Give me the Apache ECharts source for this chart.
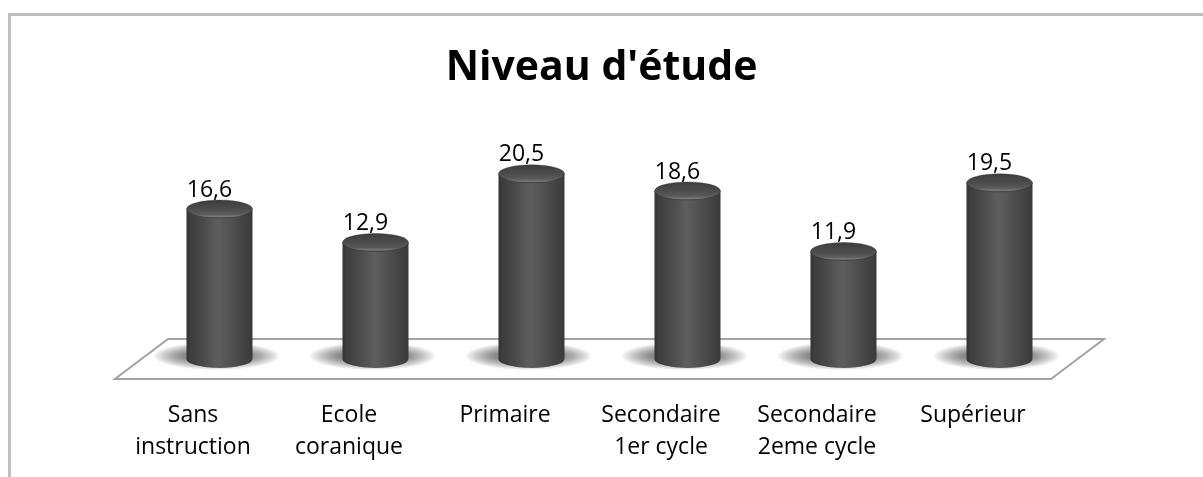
<!DOCTYPE html>
<html>
<head>
<meta charset="utf-8">
<script src="https://cdn.jsdelivr.net/npm/echarts@6/dist/echarts.min.js"></script>
<style>
  html, body { margin: 0; padding: 0; background: #fff; }
  #chart { width: 1203px; height: 477px; }
</style>
</head>
<body>
<div id="chart"></div>
<script>
// Survey shares by education level (%)
const categories = ['Sans\ninstruction', 'Ecole\ncoranique', 'Primaire', 'Secondaire\n1er cycle', 'Secondaire\n2eme cycle', 'Supérieur'];
const values = [16.6, 12.9, 20.5, 18.6, 11.9, 19.5];
const titleText = "Niveau d'étude";

const FONT = '"Open Sans", "DejaVu Sans", sans-serif';
const DEPTH_X = 26.5;   // half of the floor's horizontal skew
const DEPTH_Y = 20;     // half of the floor's vertical depth
const RX = 33;          // cylinder radius
const RY = 9;           // ellipse half-height of cylinder caps

function fmt(v) { return String(v).replace('.', ','); }

function ellipsePath(cx, cy, rx, ry) {
  return 'M' + (cx - rx) + ',' + cy +
    ' A' + rx + ',' + ry + ' 0 1 0 ' + (cx + rx) + ',' + cy +
    ' A' + rx + ',' + ry + ' 0 1 0 ' + (cx - rx) + ',' + cy + ' Z';
}

// Skewed floor plane under the cylinders
function renderFloor(params, api) {
  const cs = params.coordSys;
  const y0 = api.coord([0, 0])[1];
  const x1 = cs.x, x2 = cs.x + cs.width;
  return {
    type: 'polygon',
    shape: {
      points: [
        [x1 + DEPTH_X, y0 - DEPTH_Y],
        [x2 + DEPTH_X, y0 - DEPTH_Y],
        [x2 - DEPTH_X, y0 + DEPTH_Y],
        [x1 - DEPTH_X, y0 + DEPTH_Y]
      ]
    },
    style: { fill: '#ffffff', stroke: '#a3a3a3', lineWidth: 2 },
    silent: true
  };
}

const bodyGradient = () => new echarts.graphic.LinearGradient(0, 0, 1, 0, [
  { offset: 0, color: '#323232' },
  { offset: 0.06, color: '#3d3d3d' },
  { offset: 0.25, color: '#4a4a4a' },
  { offset: 0.48, color: '#5e5e5e' },
  { offset: 0.6, color: '#565656' },
  { offset: 0.85, color: '#444444' },
  { offset: 1, color: '#3a3a3a' }
]);

const topGradient = () => new echarts.graphic.LinearGradient(0, 0, 0, 1, [
  { offset: 0, color: '#3c3c3c' },
  { offset: 0.5, color: '#4c4c4c' },
  { offset: 0.78, color: '#5a5a5a' },
  { offset: 0.9, color: '#787878' },
  { offset: 1, color: '#4a4a4a' }
]);

// Soft floor shadow: a stack of faint ellipses shrinking toward the base
function shadowLayers(cx, yb) {
  const layers = [];
  const steps = 18;
  for (let k = 0; k < steps; k++) {
    const t = 1 - k / steps;
    layers.push({
      type: 'path',
      shape: { pathData: ellipsePath(cx - 3, yb - 3, RX + 30 * t, 5 + 9 * t) },
      style: { fill: 'rgba(0,0,0,0.032)' },
      silent: true
    });
  }
  return layers;
}

// One shaded cylinder per category, with its value on top
function renderCylinder(params, api) {
  const idx = api.value(0);
  const v = api.value(1);
  const base = api.coord([idx, 0]);
  const top = api.coord([idx, v]);
  const cx = base[0], yb = base[1], yt = top[1];
  return {
    type: 'group',
    children: shadowLayers(cx, yb).concat([
      {
        type: 'path',
        shape: {
          pathData: 'M' + (cx - RX) + ',' + yt + ' L' + (cx - RX) + ',' + yb +
            ' A' + RX + ',' + RY + ' 0 0 0 ' + (cx + RX) + ',' + yb +
            ' L' + (cx + RX) + ',' + yt + ' Z'
        },
        style: { fill: bodyGradient() }
      },
      {
        type: 'path',
        shape: { pathData: ellipsePath(cx, yt, RX, RY) },
        style: { fill: topGradient(), stroke: 'rgba(40,40,40,0.6)', lineWidth: 0.6 }
      },
      {
        type: 'text',
        x: cx - 10,
        y: yt - RY + 2,
        style: {
          text: fmt(v),
          font: '23px ' + FONT,
          lineHeight: 24,
          fill: '#000000',
          align: 'center',
          verticalAlign: 'bottom'
        }
      }
    ])
  };
}

const chart = echarts.init(document.getElementById('chart'), null, { renderer: 'canvas' });

chart.setOption({
  animation: false,
  backgroundColor: '#ffffff',
  title: {
    text: titleText,
    left: 'center',
    top: 47,
    padding: 0,
    textStyle: { fontFamily: FONT, fontWeight: 'bold', fontSize: 41, lineHeight: 42, color: '#000000' }
  },
  graphic: [
    {
      type: 'rect',
      z: -10,
      shape: { x: 9.5, y: 14.5, width: 1400, height: 700 },
      style: { fill: 'none', stroke: '#bfbfbf', lineWidth: 3 },
      silent: true
    }
  ],
  grid: [
    { left: 141.5, right: 125.5, top: 88, bottom: 118 },
    { left: 115, right: 152, top: 300, bottom: 98 }
  ],
  xAxis: [
    {
      gridIndex: 0, type: 'category', data: categories,
      axisLine: { show: false }, axisTick: { show: false }, axisLabel: { show: false }, splitLine: { show: false }
    },
    {
      gridIndex: 1, type: 'category', data: categories,
      axisLine: { show: false }, axisTick: { show: false }, splitLine: { show: false },
      axisLabel: {
        interval: 0, margin: 20.5, color: '#000000',
        fontFamily: FONT, fontSize: 23, lineHeight: 32, align: 'center'
      }
    }
  ],
  yAxis: [
    { gridIndex: 0, type: 'value', min: 0, max: 30, show: false },
    { gridIndex: 1, type: 'value', min: 0, max: 1, show: false }
  ],
  series: [
    {
      type: 'custom',
      xAxisIndex: 0, yAxisIndex: 0,
      renderItem: renderFloor,
      data: [[0, 0]],
      z: 1,
      silent: true
    },
    {
      type: 'custom',
      xAxisIndex: 0, yAxisIndex: 0,
      renderItem: renderCylinder,
      encode: { x: 0, y: 1 },
      data: values.map((v, i) => [i, v]),
      z: 2
    }
  ]
});
</script>
</body>
</html>
